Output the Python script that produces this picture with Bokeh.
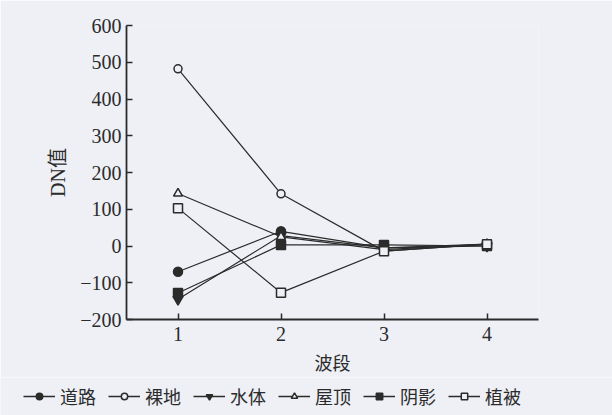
from bokeh.plotting import figure
from bokeh.models import Legend, LegendItem, FixedTicker, Range1d
from bokeh.layouts import column
from bokeh.embed import file_html
from bokeh.resources import INLINE

bands = [1, 2, 3, 4]
road = [-70, 40, -5, 5]          # 道路
bare = [482, 142, -14, 5]        # 裸地
water = [-145, 28, -5, 0]        # 水体
roof = [143, 25, -10, 5]         # 屋顶
shadow = [-128, 3, 3, 0]         # 阴影
veg = [103, -127, -14, 5]        # 植被

names = ["道路", "裸地", "水体", "屋顶", "阴影", "植被"]
y_ticks = [-200, -100, 0, 100, 200, 300, 400, 500, 600]
y_tick_labels = ["−200", "−100", "0", "100", "200", "300", "400", "500", "600"]
x_ticks = [1, 2, 3, 4]

BG = "#eef0f6"
INK = "#2b2b2b"
SERIF = "Liberation Serif"
MIXED = "'Liberation Serif', 'Noto Sans CJK SC'"
CJK = "Noto Sans CJK SC"

p = figure(width=612, height=377, output_backend="svg", toolbar_location=None,
           x_range=Range1d(0.5, 4.5), y_range=Range1d(-200, 600),
           min_border_left=126, min_border_right=74, min_border_top=25,
           min_border_bottom=56)
p.frame_align = False
p.background_fill_color = BG
p.border_fill_color = BG
p.outline_line_color = None
p.grid.visible = False

series = [road, bare, water, roof, shadow, veg]
markers = ["circle", "circle", "inverted_triangle", "triangle", "square", "square"]
fills = [INK, BG, INK, BG, INK, BG]
sizes = [9, 8, 10, 9, 9, 9]

for ys, mk, fc, sz in zip(series, markers, fills, sizes):
    p.line(bands, ys, line_color=INK, line_width=1.2)
    p.scatter(bands, ys, marker=mk, size=sz, fill_color=fc,
              line_color=INK, line_width=1.5)

for ax in (p.xaxis[0], p.yaxis[0]):
    ax.axis_line_color = INK
    ax.axis_line_width = 1.8
    ax.major_tick_line_color = INK
    ax.major_tick_line_width = 1.5
    ax.major_tick_in = 6
    ax.major_tick_out = 0
    ax.minor_tick_line_color = None
    ax.major_label_text_font = SERIF
    ax.major_label_text_font_size = "20px"
    ax.major_label_text_color = INK
    ax.axis_label_text_font_style = "normal"
    ax.axis_label_text_color = INK

p.yaxis.ticker = FixedTicker(ticks=y_ticks)
p.yaxis.major_label_overrides = dict(zip(y_ticks, y_tick_labels))
p.yaxis.major_label_standoff = 5
p.yaxis.axis_label = "DN值"
p.yaxis.axis_label_text_font = MIXED
p.yaxis.axis_label_text_font_size = "20px"
p.yaxis.axis_label_standoff = 8

p.xaxis.ticker = FixedTicker(ticks=x_ticks)
p.xaxis.major_label_standoff = 7
p.xaxis.axis_label = "波段"
p.xaxis.axis_label_text_font = CJK
p.xaxis.axis_label_text_font_size = "18px"
p.xaxis.axis_label_standoff = 5

# legend strip
lg = figure(width=612, height=38, output_backend="svg", toolbar_location=None,
            x_range=Range1d(0, 1), y_range=Range1d(0, 1),
            x_axis_type=None, y_axis_type=None,
            min_border_left=0, min_border_right=0, min_border_top=0,
            min_border_bottom=0)
lg.frame_align = False
lg.background_fill_color = BG
lg.border_fill_color = BG
lg.outline_line_color = None
lg.grid.visible = False

items = []
for name, ys, mk, fc in zip(names, series, markers, fills):
    ln = lg.line(x=bands[:1], y=ys[:1], line_color=INK, line_width=1.5,
                 visible=False)
    sc = lg.scatter(x=bands[:1], y=ys[:1], marker=mk, fill_color=fc,
                    line_color=INK, line_width=1.5, visible=False)
    items.append(LegendItem(label=name, renderers=[ln, sc]))

legend = Legend(items=items, orientation="horizontal", location=(23, 6),
                glyph_width=32, glyph_height=16, label_standoff=5, spacing=12,
                padding=2, margin=0,
                label_text_font=CJK, label_text_font_size="18px",
                label_text_color=INK, inactive_fill_alpha=0,
                background_fill_alpha=0, border_line_color=None)
lg.add_layout(legend, "center")

layout = column(p, lg, spacing=0)
html = file_html(layout, INLINE)
html = html.replace("<body>", '<body style="background:%s;">' % BG, 1)
open("out.html", "w").write(html)
